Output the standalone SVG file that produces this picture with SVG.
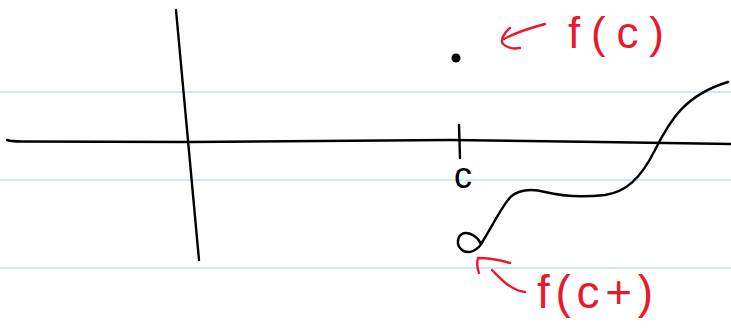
<svg xmlns="http://www.w3.org/2000/svg" width="731" height="328" viewBox="0 0 731 328">
  <style>
    .rule { stroke: #cde9f7; stroke-width: 2; fill: none; }
    .ink { stroke: #000; stroke-width: 2.4; fill: none; stroke-linecap: round; stroke-linejoin: round; }
    .red { stroke: #e8192c; stroke-width: 2.4; fill: none; stroke-linecap: round; stroke-linejoin: round; }
    .lbl { font-family: "Liberation Sans", "DejaVu Sans", sans-serif; }
    .redtxt { fill: #e8192c; }
  </style>
  <rect width="731" height="328" fill="#fff"/>

  <!-- ruled paper lines -->
  <g id="paper">
    <line class="rule" x1="0" y1="92" x2="731" y2="92"/>
    <line class="rule" x1="0" y1="180" x2="731" y2="180"/>
    <line class="rule" x1="0" y1="268" x2="731" y2="268"/>
  </g>

  <!-- axes -->
  <g id="axes">
    <path class="ink" d="M7,140 Q12,141.5 22,141.5 L190,142 L450,140 L600,142 L731,144"/>
    <path class="ink" d="M176,10 L199,260"/>
  </g>

  <!-- tick at c and its label -->
  <g id="tick-c">
    <path class="ink" d="M459,125 L460,158"/>
    <text class="lbl" x="463" y="188" font-size="36" text-anchor="middle">c</text>
  </g>

  <!-- isolated point f(c) -->
  <g id="point-fc">
    <circle cx="456" cy="58" r="4.5" fill="#000"/>
  </g>

  <!-- graph of the function, starting at the open circle -->
  <g id="curve">
    <path class="ink" d="M481,244 C476,234 464,229 459,237 C455,246 463,255 473,251 C478,249 481,245 483,241"/>
    <path class="ink" d="M481,244 C490,230 500,210 508,200 C515,190 530,188 545,192 C565,197 585,197 605,195 C625,192 640,180 655,150 C670,120 685,95 728,82"/>
  </g>

  <!-- annotations -->
  <g id="label-fc">
    <path class="red" d="M545,24 C530,28 515,33 504,39"/>
    <path class="red" d="M510,28 C504,33 500,40 503,44 C507,48 514,49 520,48"/>
    <text class="lbl redtxt" x="568" y="48" font-size="44" textLength="96" lengthAdjust="spacing">f(c)</text>
  </g>

  <g id="label-fcplus">
    <path class="red" d="M479,273 C477,268 477,262 478,258 C488,258 500,260 510,263"/>
    <path class="red" d="M492,270 C500,278 510,290 525,292"/>
    <text class="lbl redtxt" x="537" y="308" font-size="46" textLength="116" lengthAdjust="spacing">f(c+)</text>
  </g>
</svg>
